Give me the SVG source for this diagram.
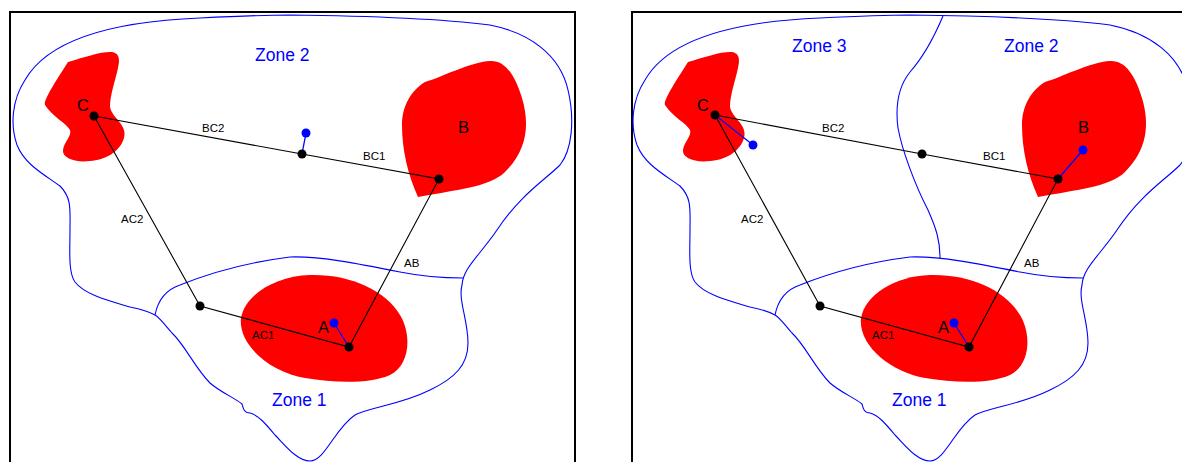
<svg xmlns="http://www.w3.org/2000/svg" width="1182" height="462" viewBox="0 0 1182 462">
  <style>
    .frame{fill:none;stroke:#000;stroke-width:2}
    .zone{fill:none;stroke:#0000ff;stroke-width:1.1}
    .region{fill:#ff0000;stroke:none}
    .link{stroke:#000;stroke-width:1.1;fill:none}
    .blink{stroke:#0000ff;stroke-width:1.3;fill:none}
    .dot{fill:#000}
    .bdot{fill:#0000ff}
    .zlab{font-family:"Liberation Sans",Arial,sans-serif;font-size:17.5px;fill:#0000ff}
    .nlab{font-family:"Liberation Sans",Arial,sans-serif;font-size:16.5px;fill:#000}
    .elab{font-family:"Liberation Sans",Arial,sans-serif;font-size:11.5px;fill:#000}
  </style>
  <defs>
    <path id="outer" d="M 290 15 C 380 16 450 20 490 25 C 530 33 560 55 568 90 C 575 120 572 150 560 165 C 545 180 520 195 497 230 C 480 255 463 268 462 285 C 458 300 468 320 468 343 C 468 365 455 378 430 390 C 400 405 370 407 355 415 C 335 428 325 461 310 461 C 297 461 285 445 275 435 C 265 423 258 415 250 413 C 244 413 243 408 242 404 C 235 398 220 392 210 383 C 195 368 185 345 172 333 C 165 325 160 318 155 315 C 148 311 140 309 130 307 C 110 301 85 295 75 282 C 68 272 70 250 70 230 C 70 210 72 198 60 186 C 45 175 25 165 17 145 C 10 125 12 100 25 80 C 45 45 100 22 200 18 C 240 16 270 15 290 15 Z"/>
    <path id="zone1line" d="M 155 315 C 158 300 165 290 180 285 C 210 273 250 262 290 257 C 320 256 360 264 400 272 C 425 277 445 278 463 278"/>
    <path id="regC" d="M 68 62 C 85 57 100 52 110 52 C 120 52 120 60 118 68 C 115 82 110 95 110 107 C 112 118 128 125 124 138 C 120 152 105 160 90 161 C 75 163 62 158 63 150 C 64 142 72 136 70 130 C 67 124 52 116 45 105 C 43 100 58 78 68 62 Z"/>
    <path id="regB" d="M 425 82 C 440 78 470 62 490 61 C 505 60 515 75 522 98 C 530 125 527 150 505 172 C 490 187 455 190 418 197 C 408 175 402 150 402 125 C 402 105 412 90 425 82 Z"/>
    <path id="regA" d="M 241 318 C 245 295 275 276 310 275 C 350 274 385 290 400 315 C 412 335 410 365 390 375 C 370 384 335 383 305 378 C 270 372 238 345 241 318 Z"/>
  </defs>

  <g id="frames">
    <path class="frame" d="M 10 470 L 10 12 L 575 12 L 575 470"/>
    <path class="frame" d="M 632 470 L 632 12 L 1184 12"/>
  </g>

  <g id="zones-left">
    <use href="#outer" class="zone"/>
    <use href="#zone1line" class="zone"/>
    <text class="zlab" x="255" y="61">Zone 2</text>
    <text class="zlab" x="272" y="406">Zone 1</text>
  </g>
  <g id="zones-right" transform="translate(620,0)">
    <use href="#outer" class="zone"/>
    <use href="#zone1line" class="zone"/>
    <path class="zone" d="M 323 16 C 315 35 305 55 290 72 C 278 87 275 105 278 128 C 282 150 295 185 308 210 C 316 228 320 240 320 258"/>
    <text class="zlab" x="172" y="52">Zone 3</text>
    <text class="zlab" x="384" y="52">Zone 2</text>
    <text class="zlab" x="272" y="406">Zone 1</text>
  </g>

  <g id="regions-left">
    <g id="node-C-left"><use href="#regC" class="region"/><text class="nlab" x="77" y="111">C</text></g>
    <g id="node-B-left"><use href="#regB" class="region"/><text class="nlab" x="458" y="133">B</text></g>
    <g id="node-A-left"><use href="#regA" class="region"/><text class="nlab" x="318" y="333">A</text></g>
  </g>
  <g id="regions-right" transform="translate(620,0)">
    <g id="node-C-right"><use href="#regC" class="region"/><text class="nlab" x="77" y="111">C</text></g>
    <g id="node-B-right"><use href="#regB" class="region"/><text class="nlab" x="458" y="133">B</text></g>
    <g id="node-A-right"><use href="#regA" class="region"/><text class="nlab" x="318" y="333">A</text></g>
  </g>

  <g id="connectors-left">
    <polyline class="link" points="94,116 302,154 439,179 349,347 200,306 94,116"/>
    <line class="blink" x1="302" y1="154" x2="306" y2="133"/>
    <line class="blink" x1="349" y1="347" x2="334" y2="323"/>
    <text class="elab" x="202" y="132">BC2</text>
    <text class="elab" x="363" y="160">BC1</text>
    <text class="elab" x="121" y="223">AC2</text>
    <text class="elab" x="252" y="339">AC1</text>
    <text class="elab" x="404" y="267">AB</text>
  </g>
  <g id="connectors-right" transform="translate(620,0)">
    <polyline class="link" points="95,115 302,154 438,179 349,347 200,306 95,115"/>
    <line class="blink" x1="95" y1="115" x2="133" y2="145"/>
    <line class="blink" x1="438" y1="179" x2="463" y2="150"/>
    <line class="blink" x1="349" y1="347" x2="334" y2="323"/>
    <text class="elab" x="202" y="132">BC2</text>
    <text class="elab" x="363" y="160">BC1</text>
    <text class="elab" x="121" y="223">AC2</text>
    <text class="elab" x="252" y="339">AC1</text>
    <text class="elab" x="404" y="267">AB</text>
  </g>

  <g id="points-left">
    <circle class="dot" cx="94" cy="116" r="4.5"/>
    <circle class="dot" cx="302" cy="154" r="4.5"/>
    <circle class="dot" cx="439" cy="179" r="4.5"/>
    <circle class="dot" cx="349" cy="347" r="4.5"/>
    <circle class="dot" cx="200" cy="306" r="4.5"/>
    <circle class="bdot" cx="306" cy="133" r="4.5"/>
    <circle class="bdot" cx="334" cy="323" r="4.5"/>
  </g>
  <g id="points-right" transform="translate(620,0)">
    <circle class="dot" cx="95" cy="115" r="4.5"/>
    <circle class="dot" cx="302" cy="154" r="4.5"/>
    <circle class="dot" cx="438" cy="179" r="4.5"/>
    <circle class="dot" cx="349" cy="347" r="4.5"/>
    <circle class="dot" cx="200" cy="306" r="4.5"/>
    <circle class="bdot" cx="133" cy="145" r="4.5"/>
    <circle class="bdot" cx="463" cy="150" r="4.5"/>
    <circle class="bdot" cx="334" cy="323" r="4.5"/>
  </g>
</svg>
